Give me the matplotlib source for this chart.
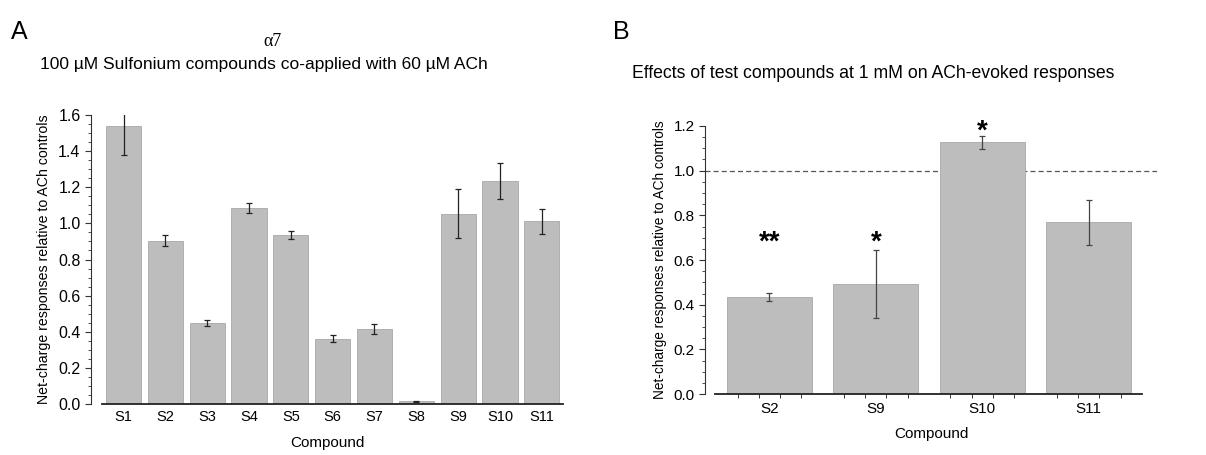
import matplotlib
matplotlib.use("Agg")
import matplotlib.pyplot as plt
import matplotlib.ticker as ticker

plt.rcParams["font.family"] = ["Liberation Sans", "DejaVu Sans"]

# Panel A data
a_labels = ["S1", "S2", "S3", "S4", "S5", "S6", "S7", "S8", "S9", "S10", "S11"]
a_values = [1.541, 0.905, 0.450, 1.084, 0.935, 0.361, 0.415, 0.015, 1.054, 1.235, 1.012]
a_errors = [0.165, 0.033, 0.016, 0.029, 0.022, 0.020, 0.026, 0.004, 0.135, 0.100, 0.070]

# Panel B data
b_labels = ["S2", "S9", "S10", "S11"]
b_values = [0.436, 0.492, 1.127, 0.769]
b_errors = [0.018, 0.152, 0.028, 0.100]
b_stars  = ["**", "*", "*", ""]
b_star_y = [0.707, 0.707, 1.204, None]

BAR = "#BDBDBD"
EDGE = "#A8A8A8"
YLABEL = "Net-charge responses relative to ACh controls"

fig = plt.figure(figsize=(12.06, 4.55), dpi=100)
W, H = 1206, 455


def px_axes(x0, y0, x1, y1):
    return fig.add_axes([x0 / W, 1 - y1 / H, (x1 - x0) / W, (y1 - y0) / H])


def style_y(ax, top, tsize, lsize):
    ax.set_ylim(0, top)
    ax.yaxis.set_major_locator(ticker.MultipleLocator(0.2))
    ax.yaxis.set_minor_locator(ticker.MultipleLocator(0.05))
    ax.yaxis.set_major_formatter(ticker.FormatStrFormatter("%.1f"))
    ax.tick_params(axis="y", which="major", direction="out", length=4, width=0.8,
                   labelsize=tsize, color="#333333")
    ax.tick_params(axis="y", which="minor", direction="out", length=2.5, width=0.6,
                   color="#333333")
    for s in ("top", "right"):
        ax.spines[s].set_visible(False)
    ax.spines["left"].set_color("#333333")
    ax.spines["left"].set_linewidth(0.8)
    ax.spines["bottom"].set_color("#222222")
    ax.spines["bottom"].set_linewidth(1.3)
    ax.set_ylabel(YLABEL, fontsize=lsize, labelpad=5)


# ---- Panel A ----
axA = px_axes(91, 115, 563, 404)
xa = list(range(len(a_labels)))
axA.bar(xa, a_values, width=0.84, color=BAR, edgecolor=EDGE, linewidth=0.6, zorder=2)
axA.errorbar(xa, a_values, yerr=a_errors, fmt="none", ecolor="#222222",
             elinewidth=0.9, capsize=2, capthick=0.9, zorder=3)
axA.set_xlim(-0.777, 10.507)
style_y(axA, 1.6, 11.5, 10.2)
axA.spines["bottom"].set_bounds(-0.52, 10.507)
axA.set_xticks(xa)
axA.set_xticklabels(a_labels)
axA.tick_params(axis="x", length=0, labelsize=10.5, pad=4)
axA.set_xlabel("Compound", fontsize=11, labelpad=9)

fig.text(272 / W, 1 - 42 / H, "α7", fontsize=13, family="Liberation Serif",
         ha="center", va="center")
fig.text(264 / W, 1 - 65 / H, "100 µM Sulfonium compounds co-applied with 60 µM ACh",
         fontsize=12.5, ha="center", va="center")
fig.text(19 / W, 1 - 32 / H, "A", fontsize=18, ha="center", va="center")

# ---- Panel B ----
axB = px_axes(705.3, 126, 1156.7, 394)
xb = list(range(len(b_labels)))
axB.bar(xb, b_values, width=0.80, color=BAR, edgecolor=EDGE, linewidth=0.6, zorder=2)
axB.errorbar(xb, b_values, yerr=b_errors, fmt="none", ecolor="#444444",
             elinewidth=0.9, capsize=2, capthick=0.9, zorder=3)
axB.axhline(1.0, color="#555555", linestyle=(0, (4, 2.5)), linewidth=0.9, zorder=1)
axB.set_xlim(-0.603, 3.64)
style_y(axB, 1.2, 11, 9.8)
axB.spines["bottom"].set_bounds(-0.512, 3.504)
axB.set_xticks(xb)
axB.set_xticklabels(b_labels)
axB.set_xticks([i + d for i in xb for d in (-0.3, -0.1, 0.1, 0.3)], minor=True)
axB.tick_params(axis="x", which="major", length=0, labelsize=11, pad=6)
axB.tick_params(axis="x", which="minor", direction="out", length=3, width=0.7,
                color="#333333")
axB.set_xlabel("Compound", fontsize=11, labelpad=8)
for i, (s, y) in enumerate(zip(b_stars, b_star_y)):
    if s:
        axB.annotate(s, xy=(i, y), xytext=(0, -10), textcoords="offset points",
                     fontsize=20, fontweight="bold", ha="center", va="baseline",
                     annotation_clip=False)

fig.text(873 / W, 1 - 73 / H, "Effects of test compounds at 1 mM on ACh-evoked responses",
         fontsize=12.7, ha="center", va="center")
fig.text(621 / W, 1 - 32 / H, "B", fontsize=18, ha="center", va="center")

fig.savefig("out.png", dpi=100)
